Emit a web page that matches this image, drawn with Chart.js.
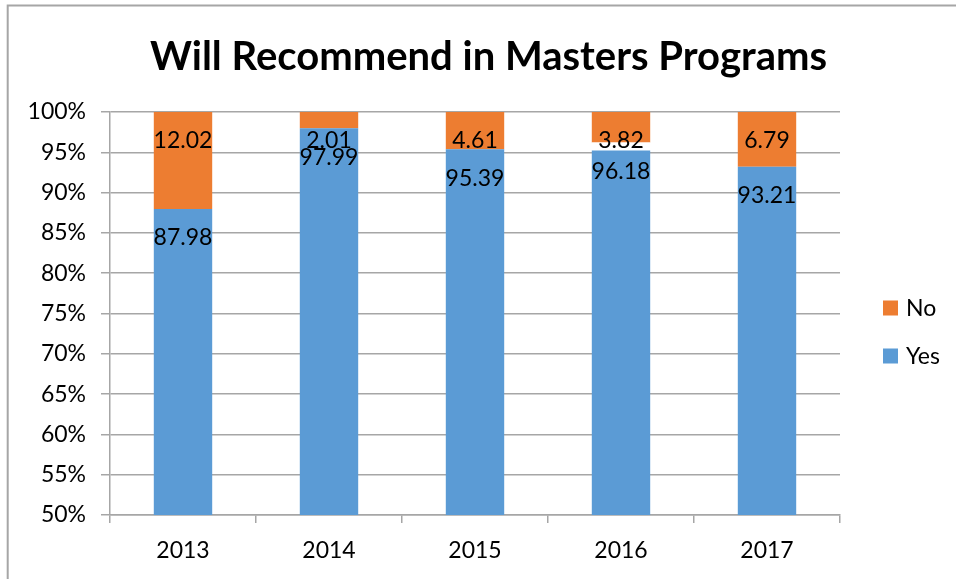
<!DOCTYPE html>
<html>
<head>
<meta charset="utf-8">
<script src="https://cdn.jsdelivr.net/npm/chart.js@4.4.1/dist/chart.umd.min.js"></script>
<style>
  html, body { margin: 0; padding: 0; background: #ffffff; }
  #wrap { width: 956px; height: 579px; position: relative; }
</style>
</head>
<body>
<div id="wrap"><canvas id="c" width="956" height="579"></canvas></div>
<script>
// ---- data ----
const chartTitle = 'Will Recommend in Masters Programs';
const years = ['2013', '2014', '2015', '2016', '2017'];
const yesValues = [87.98, 97.99, 95.39, 96.18, 93.21];
const noValues = [12.02, 2.01, 4.61, 3.82, 6.79];
// unlabelled blank slice seen in 2016 (white gap between the two segments)
const blankValues = [0, 0, 0, 1.0, 0];
const yTickMin = 50;
const yTickMax = 100;
const yTickStep = 5;

// 100%-stacked shares
const totals = years.map((_, i) => yesValues[i] + noValues[i] + blankValues[i]);
const yesShare = yesValues.map((v, i) => v / totals[i] * 100);
const blankShare = blankValues.map((v, i) => v / totals[i] * 100);
const noShare = noValues.map((v, i) => v / totals[i] * 100);

const FONT = 'Lato, "Open Sans", "Noto Sans", sans-serif';
const GRID = '#a6a6a6';

const frame = {
  id: 'frame',
  beforeDraw(chart) {
    const ctx = chart.ctx;
    ctx.save();
    ctx.fillStyle = '#ffffff';
    ctx.fillRect(0, 0, chart.width, chart.height);
    ctx.strokeStyle = GRID;
    ctx.lineWidth = 2;
    ctx.beginPath();
    ctx.moveTo(7.7, chart.height);
    ctx.lineTo(7.7, 5.5);
    ctx.lineTo(chart.width, 5.5);
    ctx.stroke();
    ctx.restore();
  },
  afterDraw(chart) {
    const ctx = chart.ctx;
    ctx.save();
    ctx.font = 'bold 40px ' + FONT;
    ctx.fillStyle = '#000000';
    ctx.textAlign = 'center';
    ctx.textBaseline = 'middle';
    ctx.fillText(chartTitle, 488.5, 57);
    ctx.restore();
  }
};

const valueLabels = {
  id: 'valueLabels',
  afterDatasetsDraw(chart) {
    const ctx = chart.ctx;
    const yScale = chart.scales.y;
    ctx.save();
    ctx.font = '23px ' + FONT;
    ctx.fillStyle = '#000000';
    ctx.textAlign = 'center';
    ctx.textBaseline = 'middle';
    chart.data.datasets.forEach((ds, di) => {
      if (!ds.rawValues) return;
      const meta = chart.getDatasetMeta(di);
      meta.data.forEach((el, i) => {
        const raw = ds.rawValues[i];
        const top = ds.labelFromRaw ? yScale.getPixelForValue(raw) : el.y;
        ctx.fillText(raw.toFixed(2), el.x, top + 29);
      });
    });
    ctx.restore();
  }
};

// legend on the right, built from the datasets (No above Yes)
const sideLegend = {
  id: 'sideLegend',
  afterDraw(chart) {
    const ctx = chart.ctx;
    const area = chart.chartArea;
    const items = chart.data.datasets.filter(d => d.showInLegend).slice().reverse();
    ctx.save();
    ctx.font = '23px ' + FONT;
    ctx.textAlign = 'left';
    ctx.textBaseline = 'middle';
    items.forEach((d, k) => {
      const cy = area.top + 196 + k * 48;
      const bx = area.right + 43;
      ctx.fillStyle = d.backgroundColor;
      ctx.fillRect(bx, cy - 7.5, 15, 15);
      ctx.fillStyle = '#000000';
      ctx.fillText(d.label, bx + 23, cy + 1);
    });
    ctx.restore();
  }
};

new Chart(document.getElementById('c'), {
  type: 'bar',
  data: {
    labels: years,
    datasets: [
      { label: 'Yes', data: yesShare, rawValues: yesValues, labelFromRaw: true, showInLegend: true,
        backgroundColor: '#5B9BD5', stack: 's' },
      { label: 'blank', data: blankShare, showInLegend: false,
        backgroundColor: '#ffffff', stack: 's' },
      { label: 'No', data: noShare, rawValues: noValues, labelFromRaw: false, showInLegend: true,
        backgroundColor: '#ED7D31', stack: 's' }
    ]
  },
  options: {
    responsive: false,
    animation: false,
    devicePixelRatio: 1,
    layout: { padding: { left: 0, right: 116, top: 112, bottom: 0 }, autoPadding: false },
    datasets: { bar: { categoryPercentage: 1.0, barPercentage: 0.4 } },
    plugins: {
      title: { display: false },
      legend: { display: false },
      tooltip: { enabled: false }
    },
    scales: {
      x: {
        stacked: true,
        grid: { offset: true, drawOnChartArea: false, drawTicks: true, tickLength: 8, color: GRID, lineWidth: 1.5 },
        border: { display: true, color: GRID, width: 1.5 },
        ticks: { color: '#000000', font: { family: FONT, size: 23 }, padding: 14 },
        afterFit(s) { s.height = 64; }
      },
      y: {
        stacked: true,
        min: yTickMin,
        max: yTickMax,
        ticks: { stepSize: yTickStep, color: '#000000', font: { family: FONT, size: 23 }, padding: 15,
                 callback: (v) => v + '%' },
        grid: { color: GRID, lineWidth: 1.5, tickLength: 9 },
        border: { display: true, color: GRID, width: 1.5 },
        afterFit(s) { s.width = 110; }
      }
    }
  },
  plugins: [frame, valueLabels, sideLegend]
});
</script>
</body>
</html>
